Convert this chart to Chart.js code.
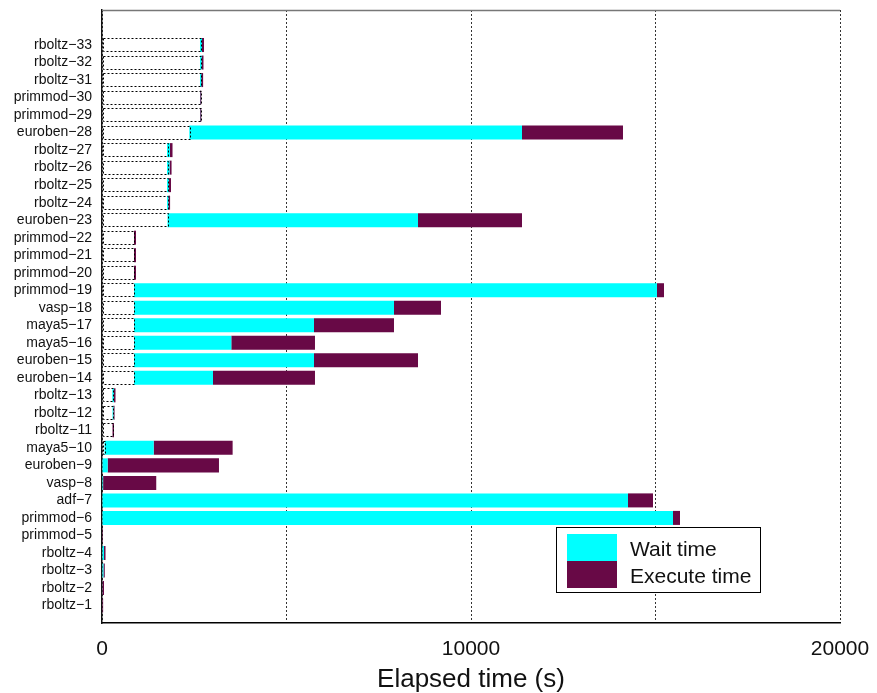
<!DOCTYPE html>
<html>
<head>
<meta charset="utf-8">
<script src="https://cdn.jsdelivr.net/npm/chart.js@4"></script>
<style>
    html, body { margin: 0; padding: 0; background: #fff; }
    #wrap { width: 877px; height: 693px; }
</style>
</head>
<body>
<div id="wrap"><canvas id="jobsChart"></canvas></div>
<script>
// jobs listed top to bottom
const jobs = [
    'rboltz−33', 'rboltz−32', 'rboltz−31', 'primmod−30', 'primmod−29', 'euroben−28',
    'rboltz−27', 'rboltz−26', 'rboltz−25', 'rboltz−24', 'euroben−23', 'primmod−22',
    'primmod−21', 'primmod−20', 'primmod−19', 'vasp−18', 'maya5−17', 'maya5−16',
    'euroben−15', 'euroben−14', 'rboltz−13', 'rboltz−12', 'rboltz−11', 'maya5−10',
    'euroben−9', 'vasp−8', 'adf−7', 'primmod−6', 'primmod−5', 'rboltz−4',
    'rboltz−3', 'rboltz−2', 'rboltz−1'
];
// seconds since the first submission
const submitAt = [
    2656, 2656, 2656, 2656, 2656, 2366,
    1762, 1762, 1762, 1762, 1775, 867,
    867, 867, 867, 867, 867, 867,
    867, 867, 280, 285, 285, 68,
    0, 0, 0, 0, 0, 0,
    0, 0, 0
];
const startAt = [
    2710, 2700, 2690, 2660, 2660, 11382,
    1843, 1830, 1815, 1800, 8564, 867,
    867, 867, 15040, 7913, 5745, 3504,
    5745, 3008, 325, 310, 285, 1401,
    154, 30, 14255, 15474, 0, 55,
    40, 15, 0
];
const endAt = [
    2765, 2750, 2740, 2690, 2690, 14119,
    1911, 1885, 1870, 1845, 11382, 921,
    921, 921, 15230, 9187, 7913, 5772,
    8564, 5772, 366, 340, 325, 3540,
    3170, 1470, 14932, 15664, 25, 95,
    75, 55, 30
];
const xTicks = [0, 10000, 20000];

const WAIT = '#00ffff';
const EXEC = '#680946';
const FONT = '"Liberation Sans", Arial, sans-serif';

// two empty slots above the jobs and one below
const labels = ['', ''].concat(jobs, ['']);
const pad = arr => [null, null].concat(arr, [null]);

const queued = pad(submitAt.map(s => [0, s]));
const waiting = pad(submitAt.map((s, i) => [s, startAt[i]]));
const running = pad(startAt.map((s, i) => [s, endAt[i]]));

// dotted outline for the time a job sat in the queue
const queueOutline = {
    id: 'queueOutline',
    afterDatasetsDraw(chart) {
        const ctx = chart.ctx;
        const meta = chart.getDatasetMeta(0);
        ctx.save();
        ctx.strokeStyle = '#000';
        ctx.lineWidth = 1;
        ctx.setLineDash([2, 2]);
        meta.data.forEach((bar, i) => {
            if (!queued[i] || queued[i][1] <= 0) return;
            const left = Math.min(bar.x, bar.base);
            const right = Math.max(bar.x, bar.base);
            const top = bar.y - bar.height / 2;
            ctx.strokeRect(Math.round(left) + 0.5, Math.round(top) + 0.5,
                Math.round(right - left), Math.round(bar.height) - 1);
        });
        ctx.restore();
    }
};

// frame top line and the boxed legend
const frameAndLegend = {
    id: 'frameAndLegend',
    afterDraw(chart) {
        const ctx = chart.ctx;
        const a = chart.chartArea;
        ctx.save();
        ctx.strokeStyle = '#777';
        ctx.lineWidth = 1.5;
        ctx.beginPath();
        ctx.moveTo(a.left, a.top + 0.5);
        ctx.lineTo(a.right, a.top + 0.5);
        ctx.stroke();

        const bx = a.right - 284, by = a.bottom - 96, bw = 204, bh = 65;
        ctx.fillStyle = '#fff';
        ctx.fillRect(bx, by, bw, bh);
        ctx.strokeStyle = '#000';
        ctx.lineWidth = 1;
        ctx.strokeRect(bx + 0.5, by + 0.5, bw, bh);

        const items = [
            { text: chart.data.datasets[1].label, color: WAIT },
            { text: chart.data.datasets[2].label, color: EXEC }
        ];
        ctx.font = '21px ' + FONT;
        ctx.textBaseline = 'middle';
        items.forEach((it, i) => {
            ctx.fillStyle = it.color;
            ctx.fillRect(bx + 11, by + 7 + i * 27, 50, 27);
            ctx.fillStyle = '#111';
            ctx.fillText(it.text, bx + 74, by + 23 + i * 27);
        });
        ctx.restore();
    }
};

new Chart(document.getElementById('jobsChart'), {
    type: 'bar',
    data: {
        labels,
        datasets: [
            { label: 'Queued', data: queued, backgroundColor: 'rgba(0,0,0,0)', borderWidth: 0 },
            { label: 'Wait time', data: waiting, backgroundColor: WAIT, borderWidth: 0 },
            { label: 'Execute time', data: running, backgroundColor: EXEC, borderWidth: 0 }
        ]
    },
    options: {
        indexAxis: 'y',
        responsive: true,
        maintainAspectRatio: false,
        animation: false,
        layout: { padding: { top: 10, right: 37, left: 0, bottom: 0 } },
        datasets: { bar: { barPercentage: 0.8, categoryPercentage: 1.0, grouped: false } },
        plugins: {
            legend: { display: false },
            tooltip: { enabled: false }
        },
        scales: {
            x: {
                type: 'linear',
                min: 0,
                max: 20000,
                afterBuildTicks: scale => {
                    scale.ticks = [0, 5000, 10000, 15000, 20000].map(v => ({ value: v }));
                },
                afterFit: scale => {
                    scale.height = 70;
                    scale.paddingLeft = 0;
                    scale.paddingRight = 0;
                },
                ticks: {
                    color: '#111',
                    padding: 14,
                    maxRotation: 0,
                    font: { family: FONT, size: 21 },
                    callback: v => xTicks.includes(v) ? String(v) : ''
                },
                grid: {
                    color: '#333',
                    lineWidth: 1,
                    drawTicks: false
                },
                border: { display: true, color: '#000', width: 1.5, dash: [2, 2] },
                title: {
                    display: true,
                    text: 'Elapsed time (s)',
                    color: '#111',
                    padding: { top: 0, bottom: 0 },
                    font: { family: FONT, size: 26, lineHeight: 1 }
                }
            },
            y: {
                type: 'category',
                offset: false,
                stacked: true,
                afterFit: scale => {
                    scale.width = 102;
                    scale.paddingTop = 0;
                    scale.paddingBottom = 0;
                },
                ticks: {
                    autoSkip: false,
                    color: '#111',
                    padding: 10,
                    font: { family: FONT, size: 14 }
                },
                grid: { display: false, drawTicks: false },
                border: { display: true, color: '#111', width: 1.5, dash: [3, 1] }
            }
        }
    },
    plugins: [queueOutline, frameAndLegend]
});
</script>
</body>
</html>
